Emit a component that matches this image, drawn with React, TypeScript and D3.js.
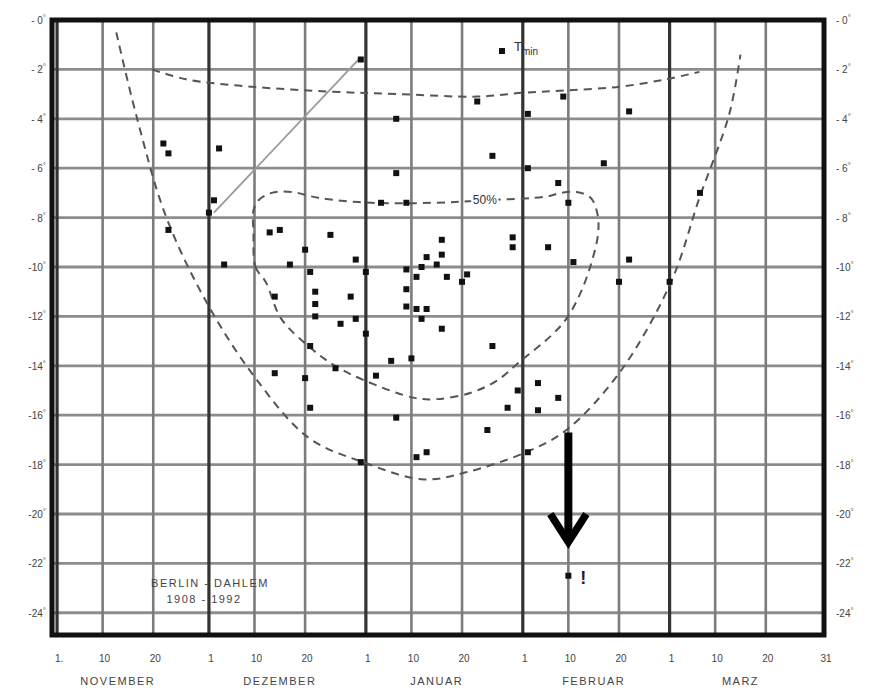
import React from 'react';
import * as d3 from 'd3';

// daily minimum temperatures (Tmin), Berlin-Dahlem 1908-1992, "DD.MM." and °C
const tminPoints: [string, number][] = [
  ['31.12.', -1.6], ['07.01.', -4.0], ['22.11.', -5.0], ['23.11.', -5.4],
  ['03.12.', -5.2], ['07.01.', -6.2], ['02.12.', -7.3], ['01.12.', -7.8],
  ['04.01.', -7.4], ['09.01.', -7.4], ['23.11.', -8.5], ['13.12.', -8.6],
  ['15.12.', -8.5], ['25.12.', -8.7], ['20.12.', -9.3], ['04.12.', -9.9],
  ['17.12.', -9.9], ['21.12.', -10.2], ['30.12.', -9.7], ['01.01.', -10.2],
  ['14.12.', -11.2], ['22.12.', -11.0], ['22.12.', -11.5], ['22.12.', -12.0],
  ['29.12.', -11.2], ['27.12.', -12.3], ['30.12.', -12.1], ['01.01.', -12.7],
  ['16.01.', -8.9], ['16.01.', -9.5], ['13.01.', -9.6], ['15.01.', -9.9],
  ['12.01.', -10.0], ['09.01.', -10.1], ['11.01.', -10.4], ['17.01.', -10.4],
  ['21.01.', -10.3], ['20.01.', -10.6], ['09.01.', -10.9], ['09.01.', -11.6],
  ['11.01.', -11.7], ['13.01.', -11.7], ['12.01.', -12.1], ['16.01.', -12.5],
  ['30.01.', -8.8], ['30.01.', -9.2], ['06.02.', -9.2], ['26.01.', -13.2],
  ['23.01.', -3.3], ['02.02.', -3.8], ['09.02.', -3.1], ['22.02.', -3.7],
  ['26.01.', -5.5], ['02.02.', -6.0], ['17.02.', -5.8], ['08.02.', -6.6],
  ['10.02.', -7.4], ['07.03.', -7.0], ['22.02.', -9.7], ['11.02.', -9.8],
  ['20.02.', -10.6], ['01.03.', -10.6], ['21.12.', -13.2], ['26.12.', -14.1],
  ['14.12.', -14.3], ['20.12.', -14.5], ['03.01.', -14.4], ['06.01.', -13.8],
  ['10.01.', -13.7], ['21.12.', -15.7], ['07.01.', -16.1], ['31.12.', -17.9],
  ['11.01.', -17.7], ['13.01.', -17.5], ['31.01.', -15.0], ['04.02.', -14.7],
  ['08.02.', -15.3], ['29.01.', -15.7], ['04.02.', -15.8], ['25.01.', -16.6],
  ['02.02.', -17.5], ['10.02.', -22.5],
];

// curves: [days since 1 Nov, °C]
const outerEnvelope: [number, number][] = [
  [11.7, -0.5], [15.7, -3.9], [21.6, -8.0], [30, -11.6], [39.2, -14.5],
  [49.6, -16.9], [60.4, -17.9], [72.5, -18.6], [81, -18.3], [92.6, -17.5],
  [100.6, -16.6], [111.2, -14.25], [121.3, -10.6], [126.9, -7.2], [132.8, -3.8],
  [135, -1.4],
];
const upperEnvelope: [number, number][] = [
  [18.8, -2.0], [25.5, -2.4], [38.4, -2.7], [54.1, -2.9], [67.3, -3.0],
  [83, -3.1], [91.8, -2.95], [100.6, -2.85], [111.2, -2.7], [120.3, -2.4],
  [126.9, -2.1],
];
const loop50: [number, number][] = [
  [38.8, -8.6], [39.2, -10.0], [41.2, -10.6], [44.3, -12.1], [50.2, -13.3],
  [54.9, -14.0], [60.8, -14.6], [70.6, -15.3], [75.1, -15.35], [81.6, -15.1],
  [86.9, -14.6], [91.6, -13.8], [97.5, -12.8], [100.6, -12.1], [103.4, -11.05],
  [105.6, -9.8], [106.9, -8.6], [106.7, -7.8], [105.4, -7.2], [102.6, -6.96],
  [99.5, -7.0], [96.7, -7.15], [84.4, -7.3], [74.5, -7.4], [62, -7.4],
  [51.6, -7.2], [46.3, -6.96], [42.4, -7.0], [39.8, -7.3], [38.8, -7.7],
];
const trendLine: [number, number][] = [[31, -7.8], [60, -1.5]];
const arrowDay = 101;
const arrowTemps = [-16.7, -21.3];

const monthNames = ['NOVEMBER', 'DEZEMBER', 'JANUAR', 'FEBRUAR', 'MARZ'];
const monthStarts: [number, number][] = [[1991, 10], [1991, 11], [1992, 0], [1992, 1], [1992, 2]];
const tickDays = [1, 10, 20];
const tempTicks = [0, -2, -4, -6, -8, -10, -12, -14, -16, -18, -20, -22, -24];

const W = 877;
const H = 688;
const seasonStart = new Date(1991, 10, 1);

const seasonDate = (d: number) => new Date(seasonStart.getTime() + d * 864e5);
const parseDay = (s: string) => {
  const [dd, mm] = s.split('.').map(Number);
  return new Date(mm >= 11 ? 1991 : 1992, mm - 1, dd);
};

const x = d3
  .scaleTime()
  .domain([new Date(1991, 9, 31), new Date(1992, 2, 31, 12)])
  .range([52, 824]);
const y = d3.scaleLinear().domain([0, -24.9]).range([20, 635]);

const fmtTemp = (t: number) => (t === 0 ? '- 0' : t > -10 ? `- ${-t}` : `${t}`);

export default function App() {
  const curveLine = d3
    .line<[number, number]>()
    .x((d) => x(seasonDate(d[0])))
    .y((d) => y(d[1]));
  const openPath = curveLine.curve(d3.curveCatmullRom.alpha(0.5));
  const outerD = openPath(outerEnvelope) || '';
  const upperD = openPath(upperEnvelope) || '';
  const loopD = d3
    .line<[number, number]>()
    .x((d) => x(seasonDate(d[0])))
    .y((d) => y(d[1]))
    .curve(d3.curveCatmullRomClosed.alpha(0.5))(loop50) || '';
  const trendD = d3
    .line<[number, number]>()
    .x((d) => x(seasonDate(d[0])))
    .y((d) => y(d[1]))(trendLine) || '';

  const [x0, x1] = x.range();
  const [y0, y1] = y.range();

  // vertical grid: month starts (dark) and the 10th / 20th (light)
  const vLines: { x: number; major: boolean }[] = [];
  const tickLabels: { x: number; label: string }[] = [];
  monthStarts.forEach(([yr, mo]) => {
    tickDays.forEach((day) => {
      const px = x(new Date(yr, mo, day));
      vLines.push({ x: px, major: day === 1 });
      tickLabels.push({ x: px, label: day === 1 ? (mo === 10 ? '1.' : '1') : `${day}` });
    });
  });
  tickLabels.push({ x: x1, label: '31' });

  const ax = x(seasonDate(arrowDay));
  const ay0 = y(arrowTemps[0]);
  const ay1 = y(arrowTemps[1]);

  const labelFont = '"Liberation Sans", "DejaVu Sans", sans-serif';

  return (
    <div style={{ position: 'absolute', left: 0, top: 0 }}>
      <svg width={W} height={H} style={{ display: 'block', background: '#fff' }}>
        {/* horizontal grid */}
        {tempTicks.map((t) => (
          <line key={`h${t}`} x1={x0} x2={x1} y1={y(t)} y2={y(t)} stroke="#8c8c8c" strokeWidth={2.8} />
        ))}
        {/* vertical grid */}
        {vLines.map((v, i) => (
          <line
            key={`v${i}`}
            x1={v.x}
            x2={v.x}
            y1={y0}
            y2={y1}
            stroke={v.major ? '#333' : '#7c7c7c'}
            strokeWidth={v.major ? 3.2 : 2.6}
          />
        ))}
        {/* frame */}
        <rect x={x0} y={y0} width={x1 - x0} height={y1 - y0} fill="none" stroke="#111" strokeWidth={5} />

        {/* envelopes */}
        <path d={outerD} fill="none" stroke="#555" strokeWidth={2} strokeDasharray="8,6" />
        <path d={upperD} fill="none" stroke="#555" strokeWidth={2} strokeDasharray="8,6" />
        <path d={loopD} fill="none" stroke="#555" strokeWidth={2} strokeDasharray="8,6" />
        <path d={trendD} fill="none" stroke="#9a9a9a" strokeWidth={1.8} />

        {/* 50% label */}
        <text
          x={x(seasonDate(84.5))}
          y={y(-7.3) + 4}
          fontFamily={labelFont}
          fontSize={12}
          fill="#333"
          textAnchor="middle"
          stroke="#fff"
          strokeWidth={4}
          paintOrder="stroke"
        >
          50%
        </text>

        {/* Tmin points */}
        {tminPoints.map(([day, t], i) => (
          <rect
            key={`p${i}`}
            x={x(parseDay(day)) - 3}
            y={y(t) - 3}
            width={6}
            height={6}
            fill="#111"
          />
        ))}

        {/* legend */}
        <rect x={499} y={48} width={6} height={6} fill="#111" />
        <text x={514} y={51} fontFamily={labelFont} fontSize={13} fill="#333">
          T
        </text>
        <text x={522} y={55} fontFamily={labelFont} fontSize={10} fill="#333">
          min
        </text>

        {/* arrow to the record minimum */}
        <line x1={ax} x2={ax} y1={ay0} y2={ay1 - 4} stroke="#000" strokeWidth={8} />
        <polyline
          points={`${ax - 18},${ay1 - 32} ${ax},${ay1 - 4} ${ax + 18},${ay1 - 32}`}
          fill="none"
          stroke="#000"
          strokeWidth={7.5}
          strokeLinejoin="miter"
        />
        <text x={ax + 12} y={y(-22.5) + 8} fontFamily={labelFont} fontSize={18} fontWeight="bold" fill="#222">
          !
        </text>

        {/* station */}
        <text x={210} y={587} fontFamily={labelFont} fontSize={11} fill="#444" textAnchor="middle" letterSpacing={1.5}>
          BERLIN - DAHLEM
        </text>
        <text x={204} y={603} fontFamily={labelFont} fontSize={11} fill="#444" textAnchor="middle" letterSpacing={1.5}>
          1908 - 1992
        </text>

        {/* temperature labels both sides */}
        {tempTicks.map((t) => (
          <g key={`yl${t}`} fontFamily={labelFont} fontSize={10} fill="#444">
            <text x={46} y={y(t) + 4} textAnchor="end">
              {fmtTemp(t)}
              <tspan dy={-4} fontSize={8}>°</tspan>
            </text>
            <text x={836} y={y(t) + 4} textAnchor="start">
              {fmtTemp(t)}
              <tspan dy={-4} fontSize={8}>°</tspan>
            </text>
          </g>
        ))}

        {/* date labels */}
        {tickLabels.map((tk, i) => (
          <text
            key={`xl${i}`}
            x={tk.x + 2}
            y={662}
            fontFamily={labelFont}
            fontSize={10}
            fill="#444"
            textAnchor="middle"
          >
            {tk.label}
          </text>
        ))}
        {monthNames.map((m, i) => (
          <text
            key={m}
            x={x(new Date(monthStarts[i][0], monthStarts[i][1], i === 0 ? 13 : 15))}
            y={685}
            fontFamily={labelFont}
            fontSize={11}
            fill="#444"
            textAnchor="middle"
            letterSpacing={1.5}
          >
            {m}
          </text>
        ))}
      </svg>
    </div>
  );
}
